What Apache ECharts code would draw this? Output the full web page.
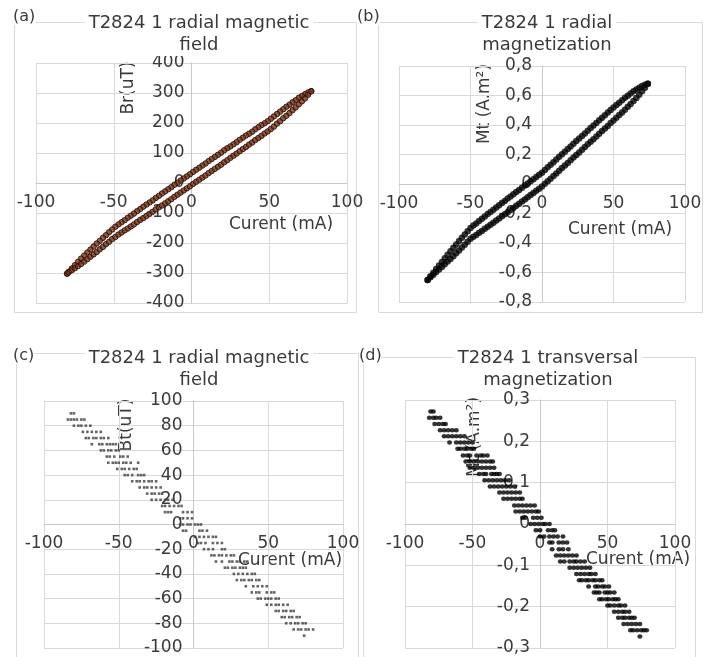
<!DOCTYPE html>
<html>
<head>
<meta charset="utf-8">
<script src="https://cdn.jsdelivr.net/npm/echarts@6/dist/echarts.min.js"></script>
<style>
  html, body { margin: 0; padding: 0; background: #fff; }
  #chart { width: 709px; height: 657px; }
</style>
</head>
<body>
<div id="chart"></div>
<script>
// ---- (a) radial magnetic field loop: current (mA) vs Br (uT) ----
const currentA = [77, 75, 73, 71, 69, 67, 65, 63, 61, 59,
                  57, 55, 53, 51, 49, 47, 45, 43, 41, 39,
                  37, 35, 33, 31, 29, 27, 25, 23, 21, 19,
                  17, 15, 13, 11, 9, 7, 5, 3, 1, -1,
                  -3, -5, -7, -9, -11, -13, -15, -17, -19, -21,
                  -23, -25, -27, -29, -31, -33, -35, -37, -39, -41,
                  -43, -45, -47, -49, -51, -53, -55, -57, -59, -61,
                  -63, -65, -67, -69, -71, -73, -75, -77, -79, -80];
const brUpper = [306, 302, 296, 290, 284, 276, 269, 261, 254, 246,
                 238, 230, 222, 214, 206, 199, 193, 186, 179, 171,
                 164, 158, 151, 144, 136, 129, 122, 116, 109, 101,
                 94, 87, 80, 73, 65, 58, 51, 44, 37, 29,
                 22, 15, 8, 1, -6, -14, -21, -28, -35, -43,
                 -50, -58, -65, -72, -79, -87, -94, -102, -109, -116,
                 -124, -131, -138, -146, -155, -164, -174, -183, -193, -202,
                 -212, -222, -232, -242, -252, -263, -274, -285, -296, -302];
const brLower = [306, 294, 282, 272, 262, 252, 243, 233, 224, 216,
                 206, 198, 188, 180, 172, 165, 157, 150, 143, 135,
                 128, 120, 113, 106, 98, 91, 84, 76, 69, 61,
                 54, 47, 40, 33, 25, 18, 11, 4, -3, -11,
                 -18, -25, -32, -39, -46, -54, -61, -68, -75, -81,
                 -88, -96, -103, -110, -117, -123, -130, -138, -145, -152,
                 -158, -165, -172, -180, -187, -196, -204, -213, -221, -230,
                 -238, -246, -254, -262, -270, -277, -284, -291, -298, -302];

// ---- (b) radial magnetization loop: current (mA) vs Mt (A.m2) ----
const currentB = [74, 72, 70, 68, 66, 64, 62, 60, 58, 56,
                  54, 52, 50, 48, 46, 44, 42, 40, 38, 36,
                  34, 32, 30, 28, 26, 24, 22, 20, 18, 16,
                  14, 12, 10, 8, 6, 4, 2, 0, -2, -4,
                  -6, -8, -10, -12, -14, -16, -18, -20, -22, -24,
                  -26, -28, -30, -32, -34, -36, -38, -40, -42, -44,
                  -46, -48, -50, -52, -54, -56, -58, -60, -62, -64,
                  -66, -68, -70, -72, -74, -76, -78, -80];
const mrUpper = [0.680, 0.673, 0.664, 0.653, 0.641, 0.628, 0.614, 0.599, 0.584, 0.567,
                 0.551, 0.535, 0.519, 0.501, 0.484, 0.466, 0.449, 0.432, 0.414, 0.396,
                 0.379, 0.361, 0.343, 0.326, 0.308, 0.291, 0.273, 0.255, 0.237, 0.219,
                 0.202, 0.184, 0.166, 0.148, 0.130, 0.113, 0.095, 0.077, 0.062, 0.048,
                 0.033, 0.019, 0.004, -0.011, -0.025, -0.040, -0.055, -0.070, -0.085, -0.099,
                 -0.115, -0.129, -0.144, -0.160, -0.174, -0.190, -0.204, -0.220, -0.236, -0.251,
                 -0.267, -0.282, -0.298, -0.320, -0.342, -0.365, -0.387, -0.410, -0.433, -0.456,
                 -0.480, -0.504, -0.528, -0.552, -0.577, -0.601, -0.625, -0.650];
const mrLower = [0.680, 0.653, 0.628, 0.605, 0.583, 0.562, 0.542, 0.523, 0.504, 0.485,
                 0.467, 0.449, 0.431, 0.413, 0.394, 0.376, 0.359, 0.340, 0.322, 0.304,
                 0.287, 0.269, 0.251, 0.232, 0.214, 0.197, 0.179, 0.161, 0.143, 0.125,
                 0.108, 0.090, 0.072, 0.054, 0.036, 0.019, 0.001, -0.017, -0.032, -0.046,
                 -0.061, -0.075, -0.090, -0.105, -0.119, -0.134, -0.147, -0.162, -0.177, -0.191,
                 -0.205, -0.219, -0.234, -0.248, -0.262, -0.276, -0.290, -0.304, -0.318, -0.331,
                 -0.345, -0.358, -0.372, -0.392, -0.412, -0.431, -0.451, -0.470, -0.489, -0.508,
                 -0.526, -0.544, -0.562, -0.580, -0.597, -0.615, -0.633, -0.650];

// ---- (c) field Bt (uT): quantised levels and the currents (mA) sampled at each ----
const btLevels = [90, 85, 80, 75, 70, 65, 60, 55, 50, 45, 40, 35, 30, 25, 20, 15, 10, 5, 0,
                  -5, -10, -15, -20, -25, -30, -35, -40, -45, -50, -55, -60, -65, -70, -75, -80, -85, -90];
const btCurrents = [
  [-82, -80],
  [-84, -82, -80, -78, -75, -73],
  [-80, -77, -75, -72, -69],
  [-74, -71, -68, -65, -62],
  [-72, -70, -67, -65, -62, -60, -57],
  [-68, -63, -61, -58, -56, -54, -52],
  [-62, -60, -57, -55, -52, -50],
  [-58, -56, -53, -49, -47, -44],
  [-57, -54, -52, -50, -47, -45, -42, -37],
  [-51, -48, -46, -43, -40, -38],
  [-46, -44, -41, -37, -35, -33],
  [-41, -38, -36, -33, -30, -28, -25],
  [-36, -33, -31, -28, -25, -22],
  [-31, -28, -26, -23, -21],
  [-28, -25, -22, -19, -17, -14],
  [-21, -19, -16, -13, -10, -8],
  [-19, -17, -15, -7, -4, -1],
  [-9, -7, -4, -1],
  [-9, -7, -4, -2, 1, 3, 5],
  [-7, -5, 4, 6, 9],
  [1, 4, 7, 10, 13, 15],
  [3, 5, 8, 13, 16, 19],
  [7, 10, 13, 19, 21],
  [12, 14, 17, 19, 22, 25, 27],
  [15, 19, 24, 26, 29, 31, 34, 36],
  [21, 23, 26, 28, 31, 33, 35],
  [27, 30, 33, 36, 39, 41],
  [29, 32, 34, 37, 39, 42, 44],
  [35, 40, 43, 46, 49],
  [39, 42, 44, 49, 52, 54],
  [43, 45, 48, 50, 52, 55, 57],
  [49, 52, 55, 57, 60, 63],
  [55, 57, 60, 62, 65, 67],
  [59, 61, 64, 66, 69, 71],
  [62, 65, 68, 70, 73, 75],
  [67, 70, 72, 75, 77, 80],
  [74]
];

// ---- (d) transversal magnetization Mt (A.m2): levels and sampled currents (mA) ----
const mtLevels = [0.272, 0.257, 0.242, 0.227, 0.212, 0.197, 0.182, 0.166, 0.151, 0.136,
                  0.121, 0.106, 0.091, 0.076, 0.061, 0.045, 0.030, 0.015, 0,
                  -0.015, -0.030, -0.045, -0.061, -0.076, -0.091, -0.106, -0.121, -0.136,
                  -0.151, -0.166, -0.182, -0.197, -0.212, -0.227, -0.242, -0.257, -0.272];
const mtCurrents = [
  [-81, -79],
  [-82, -79, -77, -74],
  [-78, -75, -72, -70],
  [-74, -71, -68, -65, -62],
  [-71, -68, -65, -62, -59, -56],
  [-67, -62, -59, -56, -53, -50],
  [-61, -59, -56, -54, -51, -49],
  [-57, -54, -52, -47, -44, -42, -39],
  [-55, -52, -49, -46, -43, -40, -37, -35],
  [-52, -49, -46, -43, -40, -37, -34],
  [-45, -42, -40, -36, -34, -32, -30],
  [-41, -38, -35, -32, -29, -26, -23],
  [-37, -34, -31, -28, -25, -22, -19],
  [-30, -27, -24, -21, -18, -15],
  [-27, -24, -21, -18, -15, -13],
  [-19, -16, -13, -10, -7, -4],
  [-18, -15, -12, -9, -6, -3, -1],
  [-13, -11, -5, -2, 1],
  [-7, -4, -1, 2, 4, 7],
  [-3, 0, 6, 9, 11],
  [0, 3, 7, 10, 13, 17],
  [7, 9, 14, 17, 20],
  [9, 14, 17, 21],
  [12, 15, 18, 21, 24, 27],
  [15, 18, 22, 25, 27, 30, 33],
  [22, 25, 28, 31, 34, 37],
  [27, 30, 33, 36, 38, 41],
  [29, 31, 34, 36, 39, 41, 44, 46],
  [36, 41, 43, 46, 48, 51],
  [40, 42, 44, 48, 50, 52, 55],
  [44, 46, 49, 51, 54, 56, 58],
  [50, 52, 55, 58, 60, 63],
  [55, 58, 61, 63, 66],
  [58, 61, 63, 66, 68, 70],
  [62, 65, 68, 71, 74],
  [67, 69, 72, 75, 77, 79],
  [74]
];

// ---- axis tick values ----
const currentTicks = [-100, -50, 0, 50, 100];
const brTicks = [-400, -300, -200, -100, 0, 100, 200, 300, 400];
const mrTicks = [-0.8, -0.6, -0.4, -0.2, 0, 0.2, 0.4, 0.6, 0.8];
const btTicks = [-100, -80, -60, -40, -20, 0, 20, 40, 60, 80, 100];
const mtTicks = [-0.3, -0.2, -0.1, 0, 0.1, 0.2, 0.3];

// ---- titles and axis names ----
const panelTitles = ['T2824 1 radial magnetic\nfield', 'T2824 1 radial\nmagnetization',
                     'T2824 1 radial magnetic\nfield', 'T2824 1 transversal\nmagnetization'];
const panelLetters = ['(a)', '(b)', '(c)', '(d)'];
const yNames = ['Br(uT)', 'Mt (A.m²)', 'Bt(uT)', 'Mt (A.m²)'];
const xName = 'Curent (mA)';

// ---------------------------------------------------------------------------
const FONT = 'DejaVu Sans';
const TEXT = '#3a3a3a';
const GRID_LINE = '#d9d9d9';

function loop(xs, up, low) {
  const pts = xs.map((x, i) => [x, up[i]]);
  for (let i = xs.length - 1; i >= 0; i--) pts.push([xs[i], low[i]]);
  return pts;
}
function levelsToPoints(levels, currents) {
  const pts = [];
  levels.forEach((v, i) => currents[i].forEach(x => pts.push([x, v])));
  return pts;
}
const commaFmt = v => (Math.abs(v) < 1e-9 ? '0' : String(+v.toFixed(2)).replace('.', ','));

const grids = [
  { left: 36, top: 63, width: 311, height: 240 },
  { left: 399, top: 66, width: 286, height: 236 },
  { left: 44, top: 401, width: 299, height: 247 },
  { left: 405, top: 400, width: 270, height: 248 }
].map(g => Object.assign({ containLabel: false, outerBoundsMode: 'none' }, g));
const yTickSets = [brTicks, mrTicks, btTicks, mtTicks];
const yLabelMargin = [7, 10, 11, 10];
const yFormatters = [v => String(v), commaFmt, v => String(v), commaFmt];

// Every range is symmetric about zero, so the crossing axes sit mid-grid.
const xAxes = grids.map((g, i) => ({
  type: 'value', gridIndex: i, position: 'bottom', offset: -g.height / 2,
  min: currentTicks[0], max: currentTicks[currentTicks.length - 1],
  interval: currentTicks[1] - currentTicks[0],
  axisLine: { show: true, onZero: false, lineStyle: { color: '#c8c8c8', width: 1 } },
  axisTick: { show: false },
  splitLine: { show: true, lineStyle: { color: GRID_LINE, width: 1 } },
  axisLabel: { margin: 11, fontSize: 17, fontFamily: FONT, color: TEXT, showMinLabel: true, showMaxLabel: true }
}));
const yAxes = grids.map((g, i) => {
  const t = yTickSets[i];
  return {
    type: 'value', gridIndex: i, position: 'left', offset: -g.width / 2,
    min: t[0], max: t[t.length - 1], interval: +(t[1] - t[0]).toFixed(3),
    axisLine: { show: true, onZero: false, lineStyle: { color: '#c8c8c8', width: 1 } },
    axisTick: { show: false },
    splitLine: { show: true, lineStyle: { color: GRID_LINE, width: 1 } },
    axisLabel: { margin: yLabelMargin[i], fontSize: 17, fontFamily: FONT, color: TEXT,
                 formatter: yFormatters[i], showMinLabel: true, showMaxLabel: true }
  };
});

const titlePos = [[195, 12], [543, 12], [195, 347], [544, 347]];
const titles = panelTitles.map((t, i) => ({
  text: t, left: titlePos[i][0], top: titlePos[i][1], textAlign: 'center',
  padding: [0, 4], backgroundColor: '#fff', itemGap: 0,
  textStyle: { fontSize: 18, fontWeight: 'normal', fontFamily: FONT, color: TEXT, lineHeight: 22 }
}));

const frames = [
  [14.5, 22.5, 342, 290], [378.5, 22.5, 324, 290],
  [16.5, 353.5, 342, 320], [363.5, 357.5, 332, 320]
];
const letterPos = [[13, 9], [357, 9], [13, 348], [359, 348]];
const yNamePos = [[129, 88], [485, 104], [127, 425], [475, 437]];
const xNamePos = [[281, 225], [620, 230], [290, 561], [638, 560]];

const graphics = [];
frames.forEach(f => graphics.push({
  type: 'rect', z: -5, silent: true,
  shape: { x: f[0], y: f[1], width: f[2], height: f[3] },
  style: { fill: 'none', stroke: GRID_LINE, lineWidth: 1 }
}));
panelLetters.forEach((s, i) => graphics.push({
  type: 'text', z: 10, x: letterPos[i][0], y: letterPos[i][1],
  style: { text: s, font: '16px "' + FONT + '"', fill: TEXT, backgroundColor: '#fff' }
}));
yNames.forEach((s, i) => graphics.push({
  type: 'text', z: 0, x: yNamePos[i][0], y: yNamePos[i][1], rotation: Math.PI / 2,
  style: { text: s, font: '17px "' + FONT + '"', fill: TEXT, align: 'center', verticalAlign: 'middle' }
}));
xNamePos.forEach(p => graphics.push({
  type: 'text', z: 0, x: p[0], y: p[1],
  style: { text: xName, font: '17px "' + FONT + '"', fill: TEXT, align: 'center', verticalAlign: 'middle' }
}));

const chart = echarts.init(document.getElementById('chart'), null, { renderer: 'canvas' });
chart.setOption({
  animation: false,
  backgroundColor: '#fff',
  title: titles,
  grid: grids,
  xAxis: xAxes,
  yAxis: yAxes,
  graphic: graphics,
  series: [
    {
      type: 'scatter', xAxisIndex: 0, yAxisIndex: 0, z: 3,
      data: loop(currentA, brUpper, brLower),
      symbol: 'circle', symbolSize: 5.5,
      itemStyle: { color: '#7a3518', borderColor: '#220d04', borderWidth: 1 }
    },
    {
      type: 'scatter', xAxisIndex: 1, yAxisIndex: 1, z: 3,
      data: loop(currentB, mrUpper, mrLower),
      symbol: 'circle', symbolSize: 6.5,
      itemStyle: { color: '#050505' }
    },
    {
      type: 'scatter', xAxisIndex: 2, yAxisIndex: 2, z: 3,
      data: levelsToPoints(btLevels, btCurrents),
      symbol: 'rect', symbolSize: [2.6, 2.6],
      itemStyle: { color: '#3d3d3d' }
    },
    {
      type: 'scatter', xAxisIndex: 3, yAxisIndex: 3, z: 3,
      data: levelsToPoints(mtLevels, mtCurrents),
      symbol: 'circle', symbolSize: [5, 4.5],
      itemStyle: { color: '#000' }
    }
  ]
});
</script>
</body>
</html>
